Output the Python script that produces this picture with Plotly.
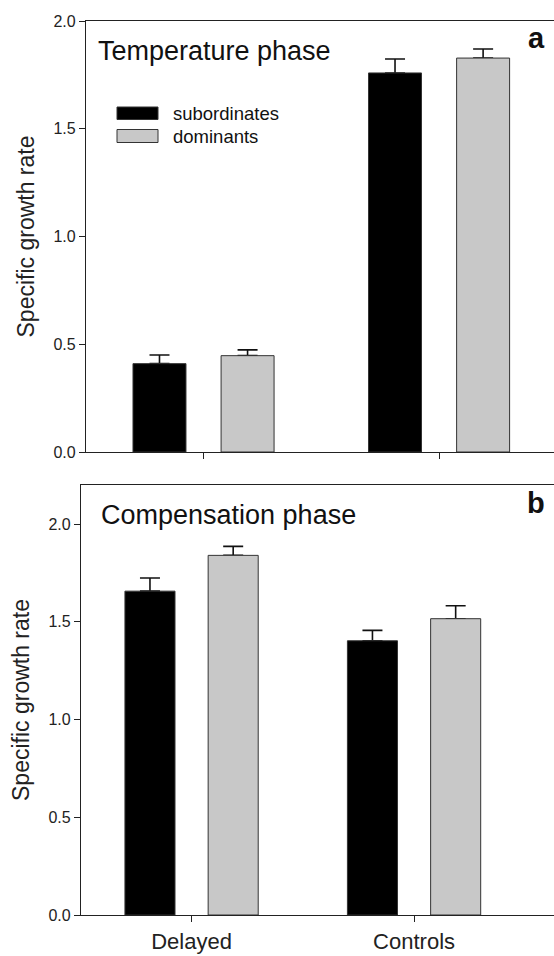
import plotly.graph_objects as go

W, H = 554, 956

groups = ["Delayed", "Controls"]
group_pos = [0, 1]
series_names = ["subordinates", "dominants"]
series_colors = ["#000000", "#c8c8c8"]
series_offsets = [-0.2995, 0.0745]
bar_width = 0.225

temp_sub = [0.41, 1.759]
temp_sub_err = [0.04, 0.065]
temp_dom = [0.447, 1.828]
temp_dom_err = [0.027, 0.042]

comp_sub = [1.657, 1.403]
comp_sub_err = [0.067, 0.053]
comp_dom = [1.840, 1.516]
comp_dom_err = [0.046, 0.066]

yticks = [0.0, 0.5, 1.0, 1.5, 2.0]
panel_titles = ["Temperature phase", "Compensation phase"]
panel_letters = ["a", "b"]
y_title = "Specific growth rate"

FONT = "Liberation Sans, Arial, Helvetica, sans-serif"
AX = "#222222"


def px_x(p):
    return p / W


def px_y(p):
    return (H - p) / H


fig = go.Figure()

panels = [
    ([temp_sub, temp_dom], [temp_sub_err, temp_dom_err], "x", "y"),
    ([comp_sub, comp_dom], [comp_sub_err, comp_dom_err], "x2", "y2"),
]
for vals_list, errs_list, xa, ya in panels:
    # error bars first (drawn beneath the bars so the lower cap is hidden)
    for vals, errs, off in zip(vals_list, errs_list, series_offsets):
        fig.add_trace(go.Bar(
            x=group_pos, y=vals, xaxis=xa, yaxis=ya, offset=off, width=bar_width,
            marker=dict(color="rgba(0,0,0,0)", line=dict(width=0)),
            error_y=dict(type="data", array=errs, arrayminus=[0] * len(errs),
                         symmetric=False, color="#111111", thickness=1.6, width=10),
            showlegend=False, hoverinfo="skip",
        ))
    for name, vals, col, off in zip(series_names, vals_list, series_colors, series_offsets):
        fig.add_trace(go.Bar(
            x=group_pos, y=vals, name=name, xaxis=xa, yaxis=ya, offset=off, width=bar_width,
            marker=dict(color=col, line=dict(color="#333333", width=1)),
            showlegend=False,
        ))

common_y = dict(
    showline=True, linecolor=AX, linewidth=1.3, ticks="outside", ticklen=6,
    tickwidth=1.2, tickcolor=AX, tickvals=yticks, tickformat=".1f",
    tickfont=dict(family=FONT, size=16, color="#222"), showgrid=False,
    zeroline=False, mirror=False, automargin=False,
    title=dict(text=y_title, font=dict(family=FONT, size=23, color="#222"), standoff=12),
)
common_x = dict(
    tickmode="array", tickvals=group_pos, ticktext=groups, showline=True, linecolor=AX,
    linewidth=1.3, mirror=True, ticks="outside", ticklen=6, tickwidth=1.2,
    tickcolor=AX, showgrid=False, zeroline=False, automargin=False,
)

fig.update_layout(
    width=W, height=H, margin=dict(l=0, r=0, t=0, b=0, autoexpand=False),
    paper_bgcolor="white", plot_bgcolor="white",
    barmode="overlay",
    font=dict(family=FONT, color="#222"),
    xaxis=dict(common_x, domain=[px_x(86), 1.0], range=[-0.499, 1.488],
               anchor="y", showticklabels=False),
    yaxis=dict(common_y, domain=[px_y(452), px_y(21)], range=[0, 2.0], anchor="x"),
    xaxis2=dict(common_x, domain=[px_x(81), 1.0], range=[-0.497, 1.629],
                anchor="y2", showticklabels=True, ticklabelstandoff=0,
                tickfont=dict(family=FONT, size=22, color="#222")),
    yaxis2=dict(common_y, domain=[px_y(915), px_y(485)], range=[0, 2.2], anchor="x2"),
)

annotations = []
for title, (x0, yc) in zip(panel_titles, [(96, 51), (99, 515)]):
    annotations.append(dict(text=title, x=px_x(x0), y=px_y(yc), xref="paper", yref="paper",
                            xanchor="left", yanchor="middle", showarrow=False,
                            font=dict(family=FONT, size=27, color="#111")))
for letter, (xr, yc) in zip(panel_letters, [(547, 38), (547, 503)]):
    annotations.append(dict(text="<b>%s</b>" % letter, x=px_x(xr), y=px_y(yc), xref="paper",
                            yref="paper", xanchor="right", yanchor="middle", showarrow=False,
                            font=dict(family=FONT, size=29, color="#111")))

shapes = []
leg_rows = [(107, 119.5), (129.5, 142.5)]
for name, col, (y0, y1) in zip(series_names, series_colors, leg_rows):
    shapes.append(dict(type="rect", xref="paper", yref="paper",
                       x0=px_x(117), x1=px_x(158), y0=px_y(y1), y1=px_y(y0),
                       fillcolor=col, line=dict(color="#333333", width=1)))
    annotations.append(dict(text=name, x=px_x(171), y=px_y((y0 + y1) / 2), xref="paper",
                            yref="paper", xanchor="left", yanchor="middle", showarrow=False,
                            font=dict(family=FONT, size=18.5, color="#111")))

fig.update_layout(annotations=annotations, shapes=shapes)

fig.write_html(
    "out.html",
    config={"displayModeBar": False},
    post_script="document.body.style.margin='0';document.body.style.overflow='hidden';",
)
